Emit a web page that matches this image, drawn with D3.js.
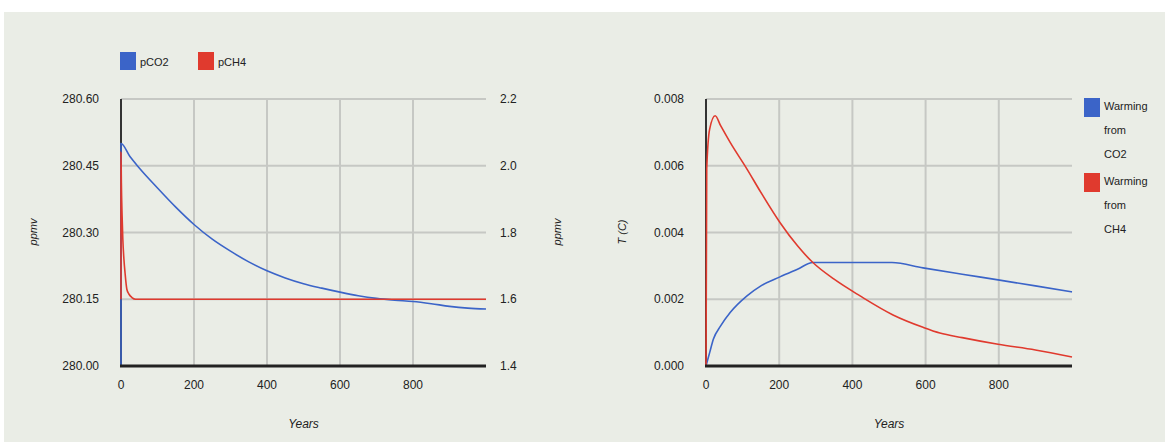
<!DOCTYPE html>
<meta charset="utf-8">
<style>
body {
  margin: 0;
  padding: 0;
  background: #fff;
}
text {
  font-family: "Liberation Sans", Arial, sans-serif;
  fill: #222;
}
.grid line {
  stroke: #c6c8c4;
  stroke-width: 2px;
}
.series {
  fill: none;
  stroke-width: 1.6px;
}
</style>
<body>
<script src="https://cdn.jsdelivr.net/npm/d3@7"></script>
<script>

// left chart: atmospheric concentrations
var pco2Years = [0, 0, 25, 50, 100, 150, 200, 250, 300, 350, 400, 450, 500, 550, 600, 650, 700, 750, 800, 850, 900, 950, 1000];
var pco2 = [280.00, 280.50, 280.47, 280.445, 280.40, 280.357, 280.318, 280.285, 280.258, 280.234, 280.214, 280.198, 280.185, 280.175, 280.166, 280.158, 280.152, 280.148, 280.145, 280.140, 280.134, 280.130, 280.128];
var pch4Years = [0, 0, 1, 3, 5, 8, 11, 16, 22, 30, 40, 1000];
var pch4 = [1.60, 2.04, 1.95, 1.85, 1.78, 1.72, 1.68, 1.63, 1.615, 1.605, 1.60, 1.60];

// right chart: warming
var warmCO2Years = [0, 10, 20, 40, 66, 112, 150, 202, 250, 292, 350, 400, 450, 508, 593, 700, 798, 900, 1000];
var warmCO2 = [0, 0.0004, 0.0008, 0.0012, 0.0016, 0.0021, 0.0024, 0.00267, 0.0029, 0.0031, 0.0031, 0.0031, 0.0031, 0.0031, 0.00294, 0.00275, 0.00258, 0.0024, 0.00222];
var warmCH4Years = [0, 2, 10, 25, 40, 66, 112, 150, 202, 250, 292, 350, 421, 511, 593, 639, 700, 798, 900, 1000];
var warmCH4 = [0, 0.0059, 0.0071, 0.0075, 0.0072, 0.0067, 0.0059, 0.0052, 0.0043, 0.0036, 0.0031, 0.0026, 0.0021, 0.00153, 0.00116, 0.00099, 0.00085, 0.00065, 0.00048, 0.00027];

var xTicks = [0, 200, 400, 600, 800];
var ppmTicks = [280.00, 280.15, 280.30, 280.45, 280.60];
var ch4Ticks = [1.4, 1.6, 1.8, 2.0, 2.2];
var tempTicks = [0, 0.002, 0.004, 0.006, 0.008];

var blue = "#3b64c8", red = "#e03a2e";

var svg = d3.select("body").append("svg")
    .attr("width", 1165)
    .attr("height", 446);

// panel background
svg.append("rect")
    .attr("x", 4).attr("y", 12)
    .attr("width", 1161).attr("height", 430)
    .attr("fill", "#eaede6");

function zip(xs, ys) {
  return xs.map(function(d, i) { return [d, ys[i]]; });
}

function drawFrame(x, y, yTicks, fmt) {
  var g = svg.append("g").attr("class", "grid");
  yTicks.slice(1).forEach(function(t) {
    g.append("line")
      .attr("x1", x.range()[0]).attr("x2", x.range()[1])
      .attr("y1", y(t)).attr("y2", y(t));
  });
  xTicks.slice(1).forEach(function(t) {
    g.append("line")
      .attr("x1", x(t)).attr("x2", x(t))
      .attr("y1", y.range()[0]).attr("y2", y.range()[1]);
  });
  // left axis line
  svg.append("line")
    .attr("x1", x(0)).attr("x2", x(0))
    .attr("y1", y.range()[0]).attr("y2", y.range()[1])
    .attr("stroke", "#333").attr("stroke-width", 2);
  // left tick labels
  yTicks.forEach(function(t) {
    svg.append("text")
      .attr("x", x(0) - 22).attr("y", y(t) + 4)
      .attr("text-anchor", "end")
      .style("font-size", "12px")
      .text(fmt(t));
  });
  // x tick labels
  xTicks.forEach(function(t) {
    svg.append("text")
      .attr("x", x(t)).attr("y", y.range()[0] + 23)
      .attr("text-anchor", "middle")
      .style("font-size", "12px")
      .text(t);
  });
  svg.append("text")
    .attr("x", (x.range()[0] + x.range()[1]) / 2)
    .attr("y", 428)
    .attr("text-anchor", "middle")
    .style("font-size", "12px")
    .style("font-style", "italic")
    .text("Years");
}

function drawBottom(x, y) {
  svg.append("line")
    .attr("x1", x.range()[0] - 1).attr("x2", x.range()[1])
    .attr("y1", y.range()[0]).attr("y2", y.range()[0])
    .attr("stroke", "#222").attr("stroke-width", 3);
}

function drawSeries(x, y, data, color) {
  svg.append("path")
    .datum(data)
    .attr("class", "series")
    .attr("stroke", color)
    .attr("d", d3.line()
      .curve(d3.curveMonotoneX)
      .x(function(d) { return x(d[0]); })
      .y(function(d) { return y(d[1]); }));
}

function vLabel(px, py, txt) {
  svg.append("text")
    .attr("transform", "translate(" + px + "," + py + ") rotate(-90)")
    .attr("text-anchor", "middle")
    .style("font-size", "11px")
    .style("font-style", "italic")
    .text(txt);
}

// ---- left chart
var x1 = d3.scaleLinear().domain([0, 1000]).range([121, 486]);
var yL = d3.scaleLinear().domain([280.00, 280.60]).range([366, 99]);
var yR = d3.scaleLinear().domain([1.4, 2.2]).range([366, 99]);

drawFrame(x1, yL, ppmTicks, d3.format(".2f"));
ch4Ticks.forEach(function(t) {
  svg.append("text")
    .attr("x", 500).attr("y", yR(t) + 4)
    .style("font-size", "12px")
    .text(d3.format(".1f")(t));
});
drawSeries(x1, yL, zip(pco2Years, pco2), blue);
drawSeries(x1, yR, zip(pch4Years, pch4), red);
drawBottom(x1, yL);
vLabel(37, 232, "ppmv");
vLabel(561, 232, "ppmv");

// legend top
[["pCO2", blue, 120], ["pCH4", red, 198]].forEach(function(l) {
  svg.append("rect").attr("x", l[2]).attr("y", 52).attr("width", 16).attr("height", 18).attr("fill", l[1]);
  svg.append("text").attr("x", l[2] + 20).attr("y", 66).style("font-size", "11px").text(l[0]);
});

// ---- right chart
var x2 = d3.scaleLinear().domain([0, 1000]).range([706, 1072]);
var yT = d3.scaleLinear().domain([0, 0.008]).range([366, 99]);

drawFrame(x2, yT, tempTicks, d3.format(".3f"));
drawSeries(x2, yT, zip(warmCO2Years, warmCO2), blue);
drawSeries(x2, yT, zip(warmCH4Years, warmCH4), red);
drawBottom(x2, yT);
vLabel(626, 232, "T (C)");

// legend right
[[["Warming", "from", "CO2"], blue, 98], [["Warming", "from", "CH4"], red, 173]].forEach(function(l) {
  svg.append("rect").attr("x", 1084).attr("y", l[2]).attr("width", 16).attr("height", 19).attr("fill", l[1]);
  l[0].forEach(function(s, i) {
    svg.append("text").attr("x", 1104).attr("y", l[2] + 12 + i * 24).style("font-size", "11px").text(s);
  });
});

</script>
